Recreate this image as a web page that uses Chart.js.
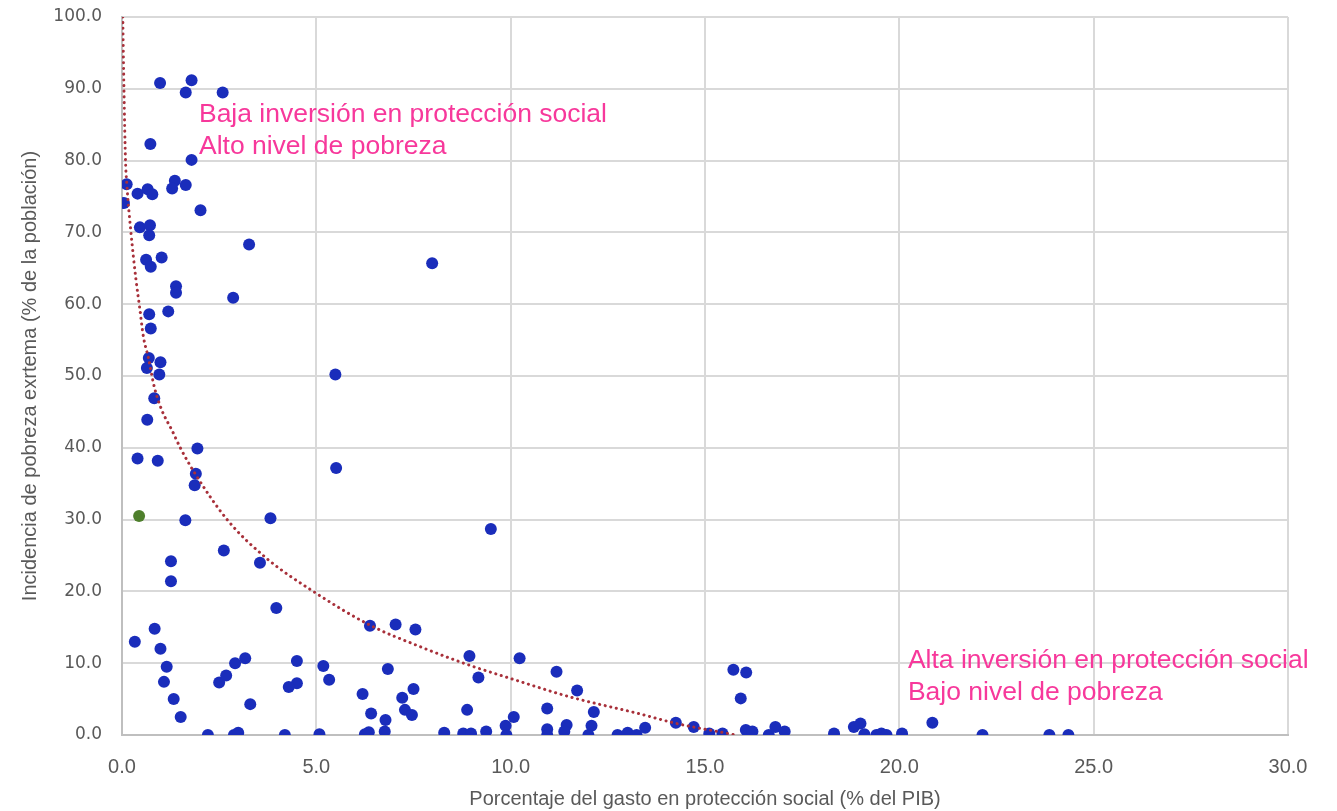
<!DOCTYPE html>
<html>
<head>
<meta charset="utf-8">
<script src="https://cdn.jsdelivr.net/npm/chart.js@4"></script>
<style>
  html, body { margin: 0; padding: 0; background: #fff; }
  #wrap { width: 1337px; height: 811px; }
</style>
</head>
<body>
<div id="wrap"><canvas id="povertyChart"></canvas></div>
<script>
// Gasto en protección social (% del PIB) vs pobreza extrema (% de la población)
const spendX = [
  0.98, 1.79, 1.64, 2.59, 0.73, 1.79, 0.12, 0.05, 0.40, 0.66, 0.78, 1.36, 1.29, 1.64, 2.02,
  0.46, 0.72, 0.70, 3.27, 0.62, 1.02, 0.74, 1.39, 1.39, 2.86, 0.70, 1.19, 0.74, 0.69, 0.99,
  0.64, 0.96, 0.83, 0.65, 1.94, 0.40, 0.92, 1.90, 1.87, 1.63, 3.82, 2.62, 1.26, 3.55, 1.26,
  3.97, 0.33, 0.84, 0.99, 1.15, 1.08, 1.33, 1.51, 2.21, 2.50, 2.68, 2.91, 3.17, 3.30, 2.88,
  2.99, 4.19, 4.50, 4.50, 4.29, 5.08, 5.18, 5.33, 5.49, 5.51, 7.98, 9.49, 6.38, 7.04, 7.55,
  6.84, 6.19, 6.41, 6.78, 7.21, 7.50, 7.28, 7.46, 6.25, 6.35, 6.76, 8.29, 8.78, 8.98, 9.37,
  8.94, 9.17, 8.88, 10.23, 10.08, 9.87, 9.89, 11.18, 10.94, 10.94, 10.94, 11.44, 11.38, 11.71, 12.14,
  12.08, 12.00, 12.75, 13.01, 13.24, 13.46, 14.25, 14.71, 15.11, 15.45, 15.73, 16.06, 15.92, 16.05, 16.22,
  16.64, 16.81, 17.05, 18.32, 18.83, 19.00, 19.10, 19.41, 19.54, 19.67, 20.07, 20.85, 22.14, 23.86, 24.35
];
const povertyY = [
  90.8, 91.2, 89.5, 89.5, 82.3, 80.1, 76.7, 74.1, 75.4, 76.0, 75.3, 77.2, 76.1, 76.6, 73.1,
  70.7, 71.0, 69.6, 68.3, 66.2, 66.5, 65.2, 62.5, 61.6, 60.9, 58.6, 59.0, 56.6, 52.5, 51.9,
  51.1, 50.2, 46.9, 43.9, 39.9, 38.5, 38.2, 36.4, 34.8, 29.9, 30.2, 25.7, 24.2, 24.0, 21.4,
  17.7, 13.0, 14.8, 12.0, 9.5, 7.4, 5.0, 2.5, 0.0, 7.3, 8.3, 10.0, 10.7, 4.3, 0.0,
  0.3, 0.0, 10.3, 7.2, 6.7, 0.1, 9.6, 7.7, 50.2, 37.2, 65.7, 28.7, 15.2, 15.4, 14.7,
  9.2, 5.7, 3.0, 2.1, 5.2, 6.4, 3.5, 2.8, 0.1, 0.4, 0.5, 0.3, 0.2, 0.2, 0.5,
  11.0, 8.0, 3.5, 10.7, 2.5, 1.3, 0.0, 8.8, 3.7, 0.8, 0.0, 1.4, 0.5, 6.2, 3.2,
  1.3, 0.0, 0.0, 0.3, 0.0, 1.0, 1.7, 1.1, 0.2, 0.2, 9.1, 8.7, 5.1, 0.7, 0.5,
  0.0, 1.1, 0.5, 0.2, 1.1, 1.6, 0.1, 0.0, 0.2, 0.0, 0.2, 1.7, 0.0, 0.0, 0.0
];
// punto destacado (verde)
const highlightX = [0.44];
const highlightY = [30.5];

// línea de tendencia
const trendX = [0.02, 0.05, 0.09, 0.12, 0.23, 0.36, 0.45, 0.55, 0.68, 0.83, 1.02, 1.28, 1.51,
  1.88, 2.72, 3.72, 4.92, 6.38, 7.67, 8.95, 9.98, 11.53, 13.28, 14.27, 15.8];
const trendY = [100, 90, 80, 77, 70, 63.4, 59.7, 55.5, 52.5, 48.5, 45.3, 42.5, 39.9,
  36.4, 29.9, 24.6, 20.0, 15.3, 12.3, 9.7, 7.9, 5.3, 3.0, 1.6, 0];

const xTicks = [0, 5, 10, 15, 20, 25, 30];
const yTicks = [0, 10, 20, 30, 40, 50, 60, 70, 80, 90, 100];

const zip = (xs, ys) => xs.map((x, i) => ({ x: x, y: ys[i] }));

// textos de los cuadrantes
const notes = [
  { x: 1.98, y: 86.35, lines: ["Baja inversión en protección social", "Alto nivel de pobreza"] },
  { x: 20.22, y: 10.3, lines: ["Alta inversión en protección social", "Bajo nivel de pobreza"] }
];

const notesPlugin = {
  id: "notes",
  afterDatasetsDraw(chart) {
    const c = chart.ctx;
    const sx = chart.scales.x, sy = chart.scales.y;
    c.save();
    c.fillStyle = "#F7389B";
    c.font = "26.5px 'Liberation Sans', Arial, sans-serif";
    c.textBaseline = "middle";
    c.textAlign = "left";
    notes.forEach(n => {
      const px = sx.getPixelForValue(n.x);
      const py = sy.getPixelForValue(n.y);
      n.lines.forEach((t, i) => c.fillText(t, px, py + i * 32));
    });
    c.restore();
  }
};

const gridColor = "#D9D9D9";
const labelColor = "#595959";
const sans = "'Liberation Sans', Arial, sans-serif";

const ctx = document.getElementById("povertyChart").getContext("2d");
new Chart(ctx, {
  type: "scatter",
  data: {
    datasets: [
      {
        label: "Tendencia",
        type: "line",
        data: zip(trendX, trendY),
        borderColor: "#A8303A",
        borderWidth: 3,
        borderDash: [0.1, 5.6],
        borderCapStyle: "round",
        pointRadius: 0,
        fill: false,
        cubicInterpolationMode: "monotone",
        order: 0
      },
      {
        label: "Destacado",
        data: zip(highlightX, highlightY),
        backgroundColor: "#4E7F2C",
        pointRadius: 6,
        borderWidth: 0,
        order: 1
      },
      {
        label: "Países",
        data: zip(spendX, povertyY),
        backgroundColor: "#1A2DBB",
        pointRadius: 6,
        borderWidth: 0,
        order: 2
      }
    ]
  },
  options: {
    responsive: true,
    maintainAspectRatio: false,
    animation: false,
    layout: { padding: { top: 17, right: 49, left: 0, bottom: 0 }, autoPadding: false },
    plugins: {
      legend: { display: false },
      tooltip: { enabled: false }
    },
    scales: {
      x: {
        type: "linear",
        min: 0,
        max: 30,
        afterFit: s => { s.height = 76; s.paddingLeft = 0; s.paddingRight = 0; },
        afterBuildTicks: s => { s.ticks = xTicks.map(v => ({ value: v })); },
        grid: { color: gridColor, lineWidth: 2, drawTicks: false },
        border: { color: "#BFBFBF", width: 2 },
        ticks: {
          padding: 20,
          color: labelColor,
          font: { family: sans, size: 20 },
          callback: v => Number(v).toFixed(1)
        },
        title: {
          display: true,
          text: "Porcentaje del gasto en protección social (% del PIB)",
          color: labelColor,
          font: { family: sans, size: 20 },
          padding: { top: 0, bottom: 0 }
        }
      },
      y: {
        type: "linear",
        min: 0,
        max: 100,
        afterFit: s => { s.width = 122; s.paddingTop = 0; s.paddingBottom = 0; },
        afterBuildTicks: s => { s.ticks = yTicks.map(v => ({ value: v })); },
        grid: { color: gridColor, lineWidth: 2, drawTicks: false },
        border: { color: "#BFBFBF", width: 2 },
        ticks: {
          padding: 20,
          color: labelColor,
          font: { family: "'DejaVu Sans', Verdana, sans-serif", size: 17 },
          callback: v => Number(v).toFixed(1)
        },
        title: {
          display: true,
          text: "Incidencia de pobreza exrtema (% de la población)",
          color: labelColor,
          font: { family: sans, size: 20 },
          padding: { top: 18, bottom: 0 }
        }
      }
    }
  },
  plugins: [notesPlugin]
});
</script>
</body>
</html>
